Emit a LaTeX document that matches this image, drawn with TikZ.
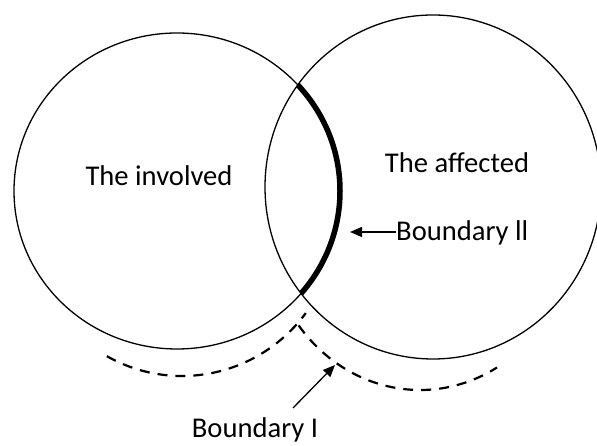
\documentclass[tikz,border=0pt]{standalone}
\usepackage{fontspec}
\setmainfont{Carlito}
\usetikzlibrary{arrows.meta}
\begin{document}
\begin{tikzpicture}[x=1pt,y=1pt,
  circ/.style={line width=1.3pt},
  thickarc/.style={line width=5.5pt},
  dashline/.style={line width=2.2pt, dash pattern=on 10pt off 8pt},
  arr/.style={line width=1.3pt, -{Triangle[length=12pt,width=10pt]}},
  lbl/.style={inner sep=0pt, font=\fontsize{28.6}{34}\selectfont}]
\fill[white] (0,0) rectangle (597,446);
\useasboundingbox (0,0) rectangle (597,446);
% circles
\draw[circ] (177,255) ellipse [x radius=163pt, y radius=158pt];
\draw[circ] (433,259) ellipse [x radius=168pt, y radius=172pt];
% boundary II: part of the left circle inside the right one
\begin{scope}
  \clip (433,259) ellipse [x radius=168pt, y radius=172pt];
  \draw[thickarc] (177,255) ellipse [x radius=163pt, y radius=158pt];
\end{scope}
% boundary I: dashed arcs
\draw[dashline] (182,228) ++(241:155pt and 158pt)
  arc[start angle=241, end angle=323, x radius=155pt, y radius=158pt];
\draw[dashline] (420,224) ++(218:154pt and 168pt)
  arc[start angle=218, end angle=300, x radius=154pt, y radius=168pt];
% labels
\node[lbl, anchor=base] (inv) at (159,260) {The involved};
\node[lbl, anchor=base] (aff) at (457,273) {The affected};
\node[lbl, anchor=base west] (bII) at (396,205) {Boundary ll};
\node[lbl, anchor=base] (bI) at (255,8) {Boundary I};
% arrows
\coordinate (bIItip) at (350,214);
\draw[arr] (bII.west |- bIItip) -- (bIItip);
\coordinate (bItail) at (293,38);
\coordinate (bItip) at (335,81);
\draw[arr] (bItail) -- (bItip);
\end{tikzpicture}
\end{document}
